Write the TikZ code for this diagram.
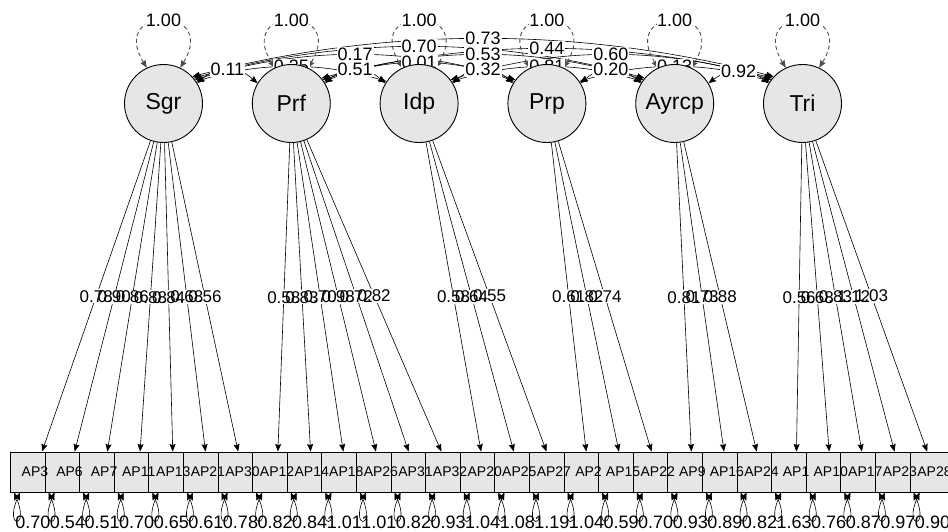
\documentclass[tikz,border=0pt]{standalone}
\usepackage{fontspec}
\setmainfont{Liberation Sans}
\usetikzlibrary{arrows.meta}
\definecolor{nfill}{RGB}{230,230,230}
\pgfdeclarelayer{bglayer}
\pgfdeclarelayer{edgelayer}
\pgfdeclarelayer{labellayer}
\pgfsetlayers{bglayer,edgelayer,labellayer,main}
\begin{document}
\begin{tikzpicture}[x=1pt,y=-1pt,
  semtip/.tip={Stealth[length=7.5pt,width=6pt,inset=1pt]},
  lat/.style={circle,draw,line width=0.9pt,fill=nfill,minimum size=78pt,inner sep=0pt,font=\fontsize{23}{23}\selectfont},
  man/.style={rectangle,draw,line width=0.9pt,fill=nfill,minimum width=49pt,minimum height=40pt,inner sep=0pt},
  mantext/.style={font=\fontsize{14}{14}\selectfont,inner sep=0pt},
  load/.style={line width=0.6pt,-{semtip}},
  cov/.style={line width=0.6pt,{semtip}-{semtip}},
  var/.style={line width=0.9pt,black!70,dash pattern=on 4pt off 3pt,{semtip}-{semtip}},
  res/.style={line width=0.6pt,{semtip}-{semtip}},
  llab/.style={font=\fontsize{17}{17}\selectfont,inner sep=1pt},
  clab/.style={font=\fontsize{18}{18}\selectfont,inner sep=1pt},
  rlab/.style={font=\fontsize{18}{18}\selectfont,inner sep=0pt},
]
\useasboundingbox (0,0) rectangle (948,532);
\begin{pgfonlayer}{bglayer}
\fill[white] (0,0) rectangle (948,532);
\end{pgfonlayer}

% latent variables
\foreach \n [count=\k from 0] in {Sgr,Prf,Idp,Prp,Ayrcp,Tri}
  \node[lat] (L\k) at ({163.5+127.8*\k},103.5) {\n};

% manifest boxes (drawn first, texts afterwards)
\foreach \a [count=\i from 0] in {AP3,AP6,AP7,AP11,AP13,AP21,AP30,AP12,AP14,AP18,AP26,AP31,AP32,AP20,AP25,AP27,AP2,AP15,AP22,AP9,AP16,AP24,AP1,AP10,AP17,AP23,AP28}
  \node[man] (b\i) at ({34.9+34.6*\i},472) {};
\foreach \a [count=\i from 0] in {AP3,AP6,AP7,AP11,AP13,AP21,AP30,AP12,AP14,AP18,AP26,AP31,AP32,AP20,AP25,AP27,AP2,AP15,AP22,AP9,AP16,AP24,AP1,AP10,AP17,AP23,AP28}
  \node[mantext] (t\i) at (b\i) {\a};

\begin{pgfonlayer}{edgelayer}
% loadings
\foreach \i/\k in {0/0,1/0,2/0,3/0,4/0,5/0,6/0,7/1,8/1,9/1,10/1,11/1,12/1,13/2,14/2,15/2,16/3,17/3,18/3,19/4,20/4,21/4,22/5,23/5,24/5,25/5,26/5}
  \draw[load] (L\k) -- (b\i);
% covariances
\foreach \a/\b/\yl in {0/1/70,0/2/67,1/2/70,0/3/55,1/3/63,2/3/70,0/4/47,1/4/55,2/4/67,3/4/70,0/5/39,1/5/49,2/5/55,3/5/67,4/5/72}{
  \pgfmathtruncatemacro\al{28+3*(\b-\a)}
  \pgfmathtruncatemacro\bal{180-\al}
  \pgfmathsetmacro\sy{103.5-39*sin(\al)}
  \pgfmathsetmacro\hh{(\sy-\yl)/0.75}
  \pgfmathsetmacro\dd{(127.8*(\b-\a)-78*cos(\al))/3}
  \draw[cov] (L\a.\al) .. controls +(\dd,-\hh) and +(-\dd,-\hh) .. (L\b.\bal);
}
% variances of latents
\foreach \k in {0,...,5}
  \draw[var] (L\k.115) .. controls +(-39,-63) and +(39,-63) .. (L\k.65);
% residual loops
\foreach \i in {0,...,26}
  \draw[res] ([xshift=4pt]b\i.south west) .. controls +(16,37) and +(-16,37) .. ([xshift=10pt]b\i.south west);
\end{pgfonlayer}

\begin{pgfonlayer}{labellayer}
% loading label backgrounds
\foreach \i/\k/\v in {0/0/0.78,1/0/0.90,2/0/0.86,3/0/0.88,4/0/0.84,5/0/0.68,6/0/0.56,7/1/0.58,8/1/0.83,9/1/0.70,10/1/0.98,11/1/0.72,12/1/0.82,13/2/0.58,14/2/0.64,15/2/0.55,16/3/0.61,17/3/0.82,18/3/0.74,19/4/0.81,20/4/0.73,21/4/0.88,22/5/0.56,23/5/0.68,24/5/0.83,25/5/1.12,26/5/1.03}
  \path (L\k) -- (b\i) node[midway,llab,fill=white] {\phantom{\v}};
% loading label texts
\foreach \i/\k/\v in {0/0/0.78,1/0/0.90,2/0/0.86,3/0/0.88,4/0/0.84,5/0/0.68,6/0/0.56,7/1/0.58,8/1/0.83,9/1/0.70,10/1/0.98,11/1/0.72,12/1/0.82,13/2/0.58,14/2/0.64,15/2/0.55,16/3/0.61,17/3/0.82,18/3/0.74,19/4/0.81,20/4/0.73,21/4/0.88,22/5/0.56,23/5/0.68,24/5/0.83,25/5/1.12,26/5/1.03}
  \path (L\k) -- (b\i) node[midway,llab] {\v};
% covariance labels
\foreach \a/\b/\yl/\v in {0/1/70/0.11,0/2/67/0.25,1/2/70/0.51,0/3/55/0.17,1/3/63/0.01,2/3/70/0.32,0/4/47/0.70,1/4/55/0.53,2/4/67/0.81,3/4/70/0.20,0/5/39/0.73,1/5/49/0.44,2/5/55/0.60,3/5/67/0.13,4/5/72/0.92}{
  \pgfmathtruncatemacro\al{28+3*(\b-\a)}
  \pgfmathtruncatemacro\bal{180-\al}
  \pgfmathsetmacro\sy{103.5-39*sin(\al)}
  \pgfmathsetmacro\hh{(\sy-\yl)/0.75}
  \pgfmathsetmacro\dd{(127.8*(\b-\a)-78*cos(\al))/3}
  \path (L\a.\al) .. controls +(\dd,-\hh) and +(-\dd,-\hh) .. (L\b.\bal) node[midway,clab,fill=white] {\v};
}
% variance labels
\foreach \k in {0,...,5}
  \node[clab,fill=white,inner sep=0.5pt] (v\k) at ([yshift=83.5pt]L\k.center) {1.00};
% residual labels
\foreach \i/\r in {0/0.70,1/0.54,2/0.51,3/0.70,4/0.65,5/0.61,6/0.78,7/0.82,8/0.84,9/1.01,10/1.01,11/0.82,12/0.93,13/1.04,14/1.08,15/1.19,16/1.04,17/0.59,18/0.70,19/0.93,20/0.89,21/0.82,22/1.63,23/0.76,24/0.87,25/0.97,26/0.90}
  \node[rlab] (r\i) at ([xshift=-2pt,yshift=-50pt]b\i.center) {\r};
\end{pgfonlayer}
\end{tikzpicture}
\end{document}
